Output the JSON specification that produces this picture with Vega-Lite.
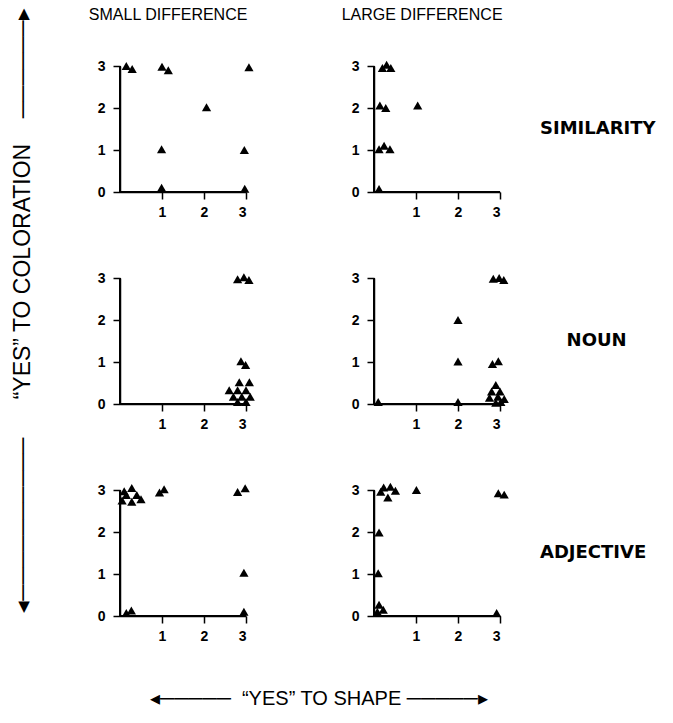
{
  "$schema": "https://vega.github.io/schema/vega-lite/v6.json",
  "background": "white",
  "padding": {"left": 11, "top": 7, "right": 5, "bottom": 5},
  "data": {"values": [
    {"diff": "SMALL DIFFERENCE", "task": "SIMILARITY", "shape": 0.15, "color": 3.0},
    {"diff": "SMALL DIFFERENCE", "task": "SIMILARITY", "shape": 0.29, "color": 2.93},
    {"diff": "SMALL DIFFERENCE", "task": "SIMILARITY", "shape": 1.0, "color": 2.98},
    {"diff": "SMALL DIFFERENCE", "task": "SIMILARITY", "shape": 1.15, "color": 2.9},
    {"diff": "SMALL DIFFERENCE", "task": "SIMILARITY", "shape": 3.07, "color": 2.97},
    {"diff": "SMALL DIFFERENCE", "task": "SIMILARITY", "shape": 2.06, "color": 2.02},
    {"diff": "SMALL DIFFERENCE", "task": "SIMILARITY", "shape": 0.99, "color": 1.02},
    {"diff": "SMALL DIFFERENCE", "task": "SIMILARITY", "shape": 2.96, "color": 1.0},
    {"diff": "SMALL DIFFERENCE", "task": "SIMILARITY", "shape": 0.99, "color": 0.1},
    {"diff": "SMALL DIFFERENCE", "task": "SIMILARITY", "shape": 2.97, "color": 0.08},

    {"diff": "LARGE DIFFERENCE", "task": "SIMILARITY", "shape": 0.2, "color": 2.95},
    {"diff": "LARGE DIFFERENCE", "task": "SIMILARITY", "shape": 0.3, "color": 3.03},
    {"diff": "LARGE DIFFERENCE", "task": "SIMILARITY", "shape": 0.4, "color": 2.95},
    {"diff": "LARGE DIFFERENCE", "task": "SIMILARITY", "shape": 0.14, "color": 2.06},
    {"diff": "LARGE DIFFERENCE", "task": "SIMILARITY", "shape": 0.28, "color": 2.0},
    {"diff": "LARGE DIFFERENCE", "task": "SIMILARITY", "shape": 1.04, "color": 2.06},
    {"diff": "LARGE DIFFERENCE", "task": "SIMILARITY", "shape": 0.12, "color": 1.02},
    {"diff": "LARGE DIFFERENCE", "task": "SIMILARITY", "shape": 0.24, "color": 1.1},
    {"diff": "LARGE DIFFERENCE", "task": "SIMILARITY", "shape": 0.38, "color": 1.02},
    {"diff": "LARGE DIFFERENCE", "task": "SIMILARITY", "shape": 0.12, "color": 0.07},

    {"diff": "SMALL DIFFERENCE", "task": "NOUN", "shape": 2.8, "color": 2.97},
    {"diff": "SMALL DIFFERENCE", "task": "NOUN", "shape": 2.95, "color": 3.02},
    {"diff": "SMALL DIFFERENCE", "task": "NOUN", "shape": 3.07, "color": 2.95},
    {"diff": "SMALL DIFFERENCE", "task": "NOUN", "shape": 2.88, "color": 1.02},
    {"diff": "SMALL DIFFERENCE", "task": "NOUN", "shape": 2.99, "color": 0.93},
    {"diff": "SMALL DIFFERENCE", "task": "NOUN", "shape": 2.84, "color": 0.52},
    {"diff": "SMALL DIFFERENCE", "task": "NOUN", "shape": 3.08, "color": 0.52},
    {"diff": "SMALL DIFFERENCE", "task": "NOUN", "shape": 2.6, "color": 0.33},
    {"diff": "SMALL DIFFERENCE", "task": "NOUN", "shape": 2.8, "color": 0.33},
    {"diff": "SMALL DIFFERENCE", "task": "NOUN", "shape": 3.0, "color": 0.33},
    {"diff": "SMALL DIFFERENCE", "task": "NOUN", "shape": 2.7, "color": 0.17},
    {"diff": "SMALL DIFFERENCE", "task": "NOUN", "shape": 2.9, "color": 0.17},
    {"diff": "SMALL DIFFERENCE", "task": "NOUN", "shape": 3.1, "color": 0.17},
    {"diff": "SMALL DIFFERENCE", "task": "NOUN", "shape": 2.8, "color": 0.05},
    {"diff": "SMALL DIFFERENCE", "task": "NOUN", "shape": 3.0, "color": 0.05},

    {"diff": "LARGE DIFFERENCE", "task": "NOUN", "shape": 0.1, "color": 0.05},
    {"diff": "LARGE DIFFERENCE", "task": "NOUN", "shape": 2.0, "color": 2.0},
    {"diff": "LARGE DIFFERENCE", "task": "NOUN", "shape": 2.0, "color": 1.01},
    {"diff": "LARGE DIFFERENCE", "task": "NOUN", "shape": 2.0, "color": 0.05},
    {"diff": "LARGE DIFFERENCE", "task": "NOUN", "shape": 2.84, "color": 2.98},
    {"diff": "LARGE DIFFERENCE", "task": "NOUN", "shape": 2.98, "color": 3.0},
    {"diff": "LARGE DIFFERENCE", "task": "NOUN", "shape": 3.09, "color": 2.95},
    {"diff": "LARGE DIFFERENCE", "task": "NOUN", "shape": 2.82, "color": 0.95},
    {"diff": "LARGE DIFFERENCE", "task": "NOUN", "shape": 2.96, "color": 1.02},
    {"diff": "LARGE DIFFERENCE", "task": "NOUN", "shape": 2.9, "color": 0.45},
    {"diff": "LARGE DIFFERENCE", "task": "NOUN", "shape": 2.8, "color": 0.3},
    {"diff": "LARGE DIFFERENCE", "task": "NOUN", "shape": 3.0, "color": 0.3},
    {"diff": "LARGE DIFFERENCE", "task": "NOUN", "shape": 2.75, "color": 0.15},
    {"diff": "LARGE DIFFERENCE", "task": "NOUN", "shape": 2.95, "color": 0.17},
    {"diff": "LARGE DIFFERENCE", "task": "NOUN", "shape": 3.1, "color": 0.12},
    {"diff": "LARGE DIFFERENCE", "task": "NOUN", "shape": 2.9, "color": 0.03},
    {"diff": "LARGE DIFFERENCE", "task": "NOUN", "shape": 3.02, "color": 0.05},

    {"diff": "SMALL DIFFERENCE", "task": "ADJECTIVE", "shape": 0.28, "color": 3.05},
    {"diff": "SMALL DIFFERENCE", "task": "ADJECTIVE", "shape": 0.15, "color": 2.88},
    {"diff": "SMALL DIFFERENCE", "task": "ADJECTIVE", "shape": 0.4, "color": 2.88},
    {"diff": "SMALL DIFFERENCE", "task": "ADJECTIVE", "shape": 0.05, "color": 2.75},
    {"diff": "SMALL DIFFERENCE", "task": "ADJECTIVE", "shape": 0.28, "color": 2.72},
    {"diff": "SMALL DIFFERENCE", "task": "ADJECTIVE", "shape": 0.5, "color": 2.78},
    {"diff": "SMALL DIFFERENCE", "task": "ADJECTIVE", "shape": 0.1, "color": 2.97},
    {"diff": "SMALL DIFFERENCE", "task": "ADJECTIVE", "shape": 0.94, "color": 2.94},
    {"diff": "SMALL DIFFERENCE", "task": "ADJECTIVE", "shape": 1.05, "color": 3.02},
    {"diff": "SMALL DIFFERENCE", "task": "ADJECTIVE", "shape": 2.8, "color": 2.95},
    {"diff": "SMALL DIFFERENCE", "task": "ADJECTIVE", "shape": 2.98, "color": 3.04},
    {"diff": "SMALL DIFFERENCE", "task": "ADJECTIVE", "shape": 2.95, "color": 1.03},
    {"diff": "SMALL DIFFERENCE", "task": "ADJECTIVE", "shape": 2.95, "color": 0.1},
    {"diff": "SMALL DIFFERENCE", "task": "ADJECTIVE", "shape": 0.15, "color": 0.07},
    {"diff": "SMALL DIFFERENCE", "task": "ADJECTIVE", "shape": 0.27, "color": 0.13},

    {"diff": "LARGE DIFFERENCE", "task": "ADJECTIVE", "shape": 0.16, "color": 2.96},
    {"diff": "LARGE DIFFERENCE", "task": "ADJECTIVE", "shape": 0.23, "color": 3.06},
    {"diff": "LARGE DIFFERENCE", "task": "ADJECTIVE", "shape": 0.39, "color": 3.08},
    {"diff": "LARGE DIFFERENCE", "task": "ADJECTIVE", "shape": 0.51, "color": 2.98},
    {"diff": "LARGE DIFFERENCE", "task": "ADJECTIVE", "shape": 0.33, "color": 2.82},
    {"diff": "LARGE DIFFERENCE", "task": "ADJECTIVE", "shape": 1.01, "color": 3.0},
    {"diff": "LARGE DIFFERENCE", "task": "ADJECTIVE", "shape": 2.96, "color": 2.92},
    {"diff": "LARGE DIFFERENCE", "task": "ADJECTIVE", "shape": 3.1, "color": 2.89},
    {"diff": "LARGE DIFFERENCE", "task": "ADJECTIVE", "shape": 0.12, "color": 1.99},
    {"diff": "LARGE DIFFERENCE", "task": "ADJECTIVE", "shape": 0.1, "color": 1.02},
    {"diff": "LARGE DIFFERENCE", "task": "ADJECTIVE", "shape": 0.12, "color": 0.27},
    {"diff": "LARGE DIFFERENCE", "task": "ADJECTIVE", "shape": 0.22, "color": 0.15},
    {"diff": "LARGE DIFFERENCE", "task": "ADJECTIVE", "shape": 0.08, "color": 0.1},
    {"diff": "LARGE DIFFERENCE", "task": "ADJECTIVE", "shape": 2.92, "color": 0.07}
  ]},
  "facet": {
    "row": {
      "field": "task", "type": "nominal", "sort": ["SIMILARITY", "NOUN", "ADJECTIVE"],
      "header": {
        "title": "\u2800\u00a0\u00a0\u00a0\u00a0\u00a0\u00a0\u00a0\u00a0\u00a0\u00a0◂──────────\u00a0\u00a0\u00a0\u00a0\u00a0\u00a0“YES” TO COLORATION\u00a0\u00a0\u00a0\u00a0──────▸",
        "titleOrient": "left", "titleFont": "Liberation Sans", "titleFontSize": 23, "titleFontWeight": "normal", "titleColor": "black", "titlePadding": 75,
        "labelOrient": "right", "labelAngle": 0, "labelAlign": "right", "labelFont": "DejaVu Sans", "labelFontWeight": "bold", "labelFontSize": 18, "labelColor": "black", "labelPadding": 40,
        "labelExpr": "datum.value == 'NOUN' ? '\u2800\u00a0\u00a0NOUN' : datum.value"
      }
    },
    "column": {
      "field": "diff", "type": "nominal", "sort": ["SMALL DIFFERENCE", "LARGE DIFFERENCE"],
      "header": {
        "title": "\u2800\u00a0\u00a0\u00a0◂─────\u00a0\u00a0“YES” TO SHAPE\u00a0─────▸",
        "titleOrient": "bottom", "titleFont": "Liberation Sans", "titleFontSize": 20, "titleFontWeight": "normal", "titleColor": "black", "titlePadding": 63,
        "labelOrient": "top", "labelFont": "Liberation Sans", "labelFontSize": 16, "labelColor": "black", "labelPadding": 43,
        "labelExpr": "datum.value + '\u00a0\u00a0\u00a0\u00a0\u2800'"
      }
    }
  },
  "spacing": {"row": 86, "column": 128},
  "bounds": "flush",
  "resolve": {"axis": {"x": "independent", "y": "independent"}},
  "spec": {
    "width": 126,
    "height": 126,
    "layer": [
      {
        "mark": {"type": "point", "shape": "triangle-up", "filled": true, "color": "black", "opacity": 1, "size": 85},
        "encoding": {
          "x": {"field": "shape", "type": "quantitative", "scale": {"domain": [0, 3], "nice": false}, "axis": {"values": [1, 2, 3], "title": null}},
          "y": {"field": "color", "type": "quantitative", "scale": {"domain": [0, 3], "nice": false}, "axis": {"values": [0, 1, 2, 3], "title": null}}
        }
      },
      {
        "mark": {"type": "rule", "color": "black", "strokeWidth": 1.5},
        "encoding": {"x": {"datum": 0, "type": "quantitative"}, "y": {"datum": 0, "type": "quantitative"}, "y2": {"datum": 3}}
      },
      {
        "mark": {"type": "rule", "color": "black", "strokeWidth": 1.5},
        "encoding": {"y": {"datum": 0, "type": "quantitative"}, "x": {"datum": 0, "type": "quantitative"}, "x2": {"datum": 3}}
      }
    ]
  },
  "config": {
    "view": {"stroke": null},
    "axis": {
      "grid": false, "domain": true, "domainColor": "black", "domainWidth": 1.5, "tickColor": "black", "tickWidth": 1.5, "tickSize": 7,
      "labelFont": "Liberation Sans", "labelFontWeight": "bold", "labelFontSize": 14, "labelColor": "black", "labelPadding": 6
    },
    "axisY": {"labelPadding": 8}
  }
}
